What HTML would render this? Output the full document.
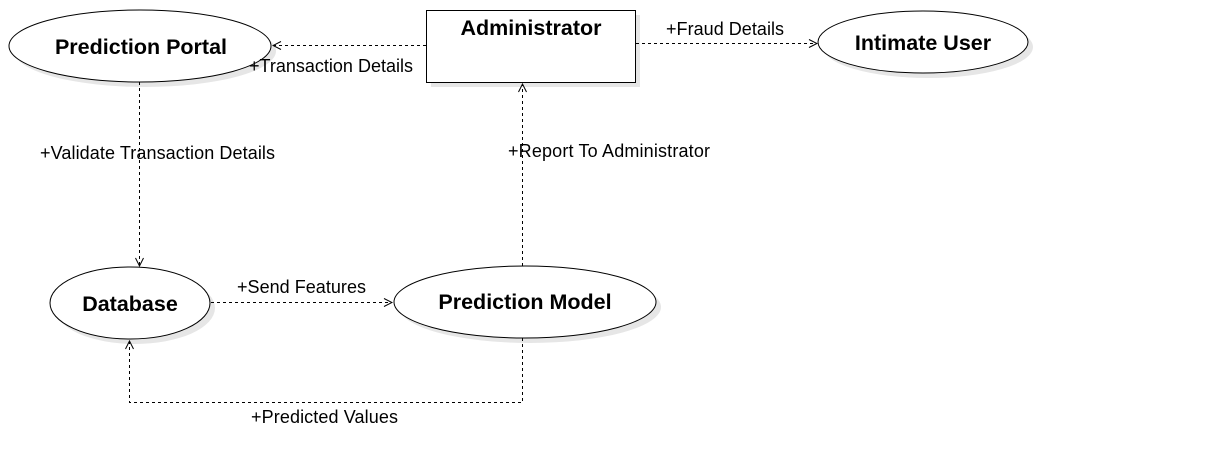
<!DOCTYPE html>
<html><head><style>body{margin:0;background:#fff}svg{display:block}text{font-family:"Liberation Sans",sans-serif}</style></head><body>
<svg width="1215" height="465" viewBox="0 0 1215 465" xmlns="http://www.w3.org/2000/svg">
<defs><marker id="a" markerWidth="10" markerHeight="10" refX="9" refY="5" orient="auto" markerUnits="userSpaceOnUse"><path d="M1,1 L9,5 L1,9" fill="none" stroke="#000" stroke-width="1"/></marker></defs>
<g fill="#e6e6e6">
<ellipse cx="145" cy="51" rx="131" ry="36"/>
<rect x="431" y="15" width="209" height="72"/>
<ellipse cx="928" cy="47" rx="105" ry="31"/>
<ellipse cx="135" cy="308" rx="80" ry="36"/>
<ellipse cx="530" cy="307" rx="131" ry="36"/>
</g>
<g fill="#fff" stroke="#000" stroke-width="1">
<ellipse cx="140" cy="46" rx="131" ry="36"/>
<rect x="426.5" y="10.5" width="209" height="72"/>
<ellipse cx="923" cy="42" rx="105" ry="31"/>
<ellipse cx="130" cy="303" rx="80" ry="36"/>
<ellipse cx="525" cy="302" rx="131" ry="36"/>
</g>
<g fill="none" stroke="#000" stroke-width="1" stroke-dasharray="3,3" marker-end="url(#a)">
<path d="M426,45.5 H273"/>
<path d="M636,43.5 H817"/>
<path d="M139.5,82 V266"/>
<path d="M522.5,266 V84"/>
<path d="M211,302.5 H392"/>
<path d="M522.5,338 V402.5 H129.5 V341"/>
</g>
<g font-weight="bold" font-size="21.5" text-anchor="middle">
<text x="141" y="54">Prediction Portal</text>
<text x="531" y="35">Administrator</text>
<text x="923" y="50">Intimate User</text>
<text x="130" y="311">Database</text>
<text x="525" y="309">Prediction Model</text>
</g>
<g font-size="18">
<text x="249" y="72" textLength="164">+Transaction Details</text>
<text x="666" y="35" textLength="118">+Fraud Details</text>
<text x="40" y="159" textLength="235">+Validate Transaction Details</text>
<text x="508" y="157" textLength="202">+Report To Administrator</text>
<text x="237" y="293" textLength="129">+Send Features</text>
<text x="251" y="423" textLength="147">+Predicted Values</text>
</g>
</svg>
</body></html>
